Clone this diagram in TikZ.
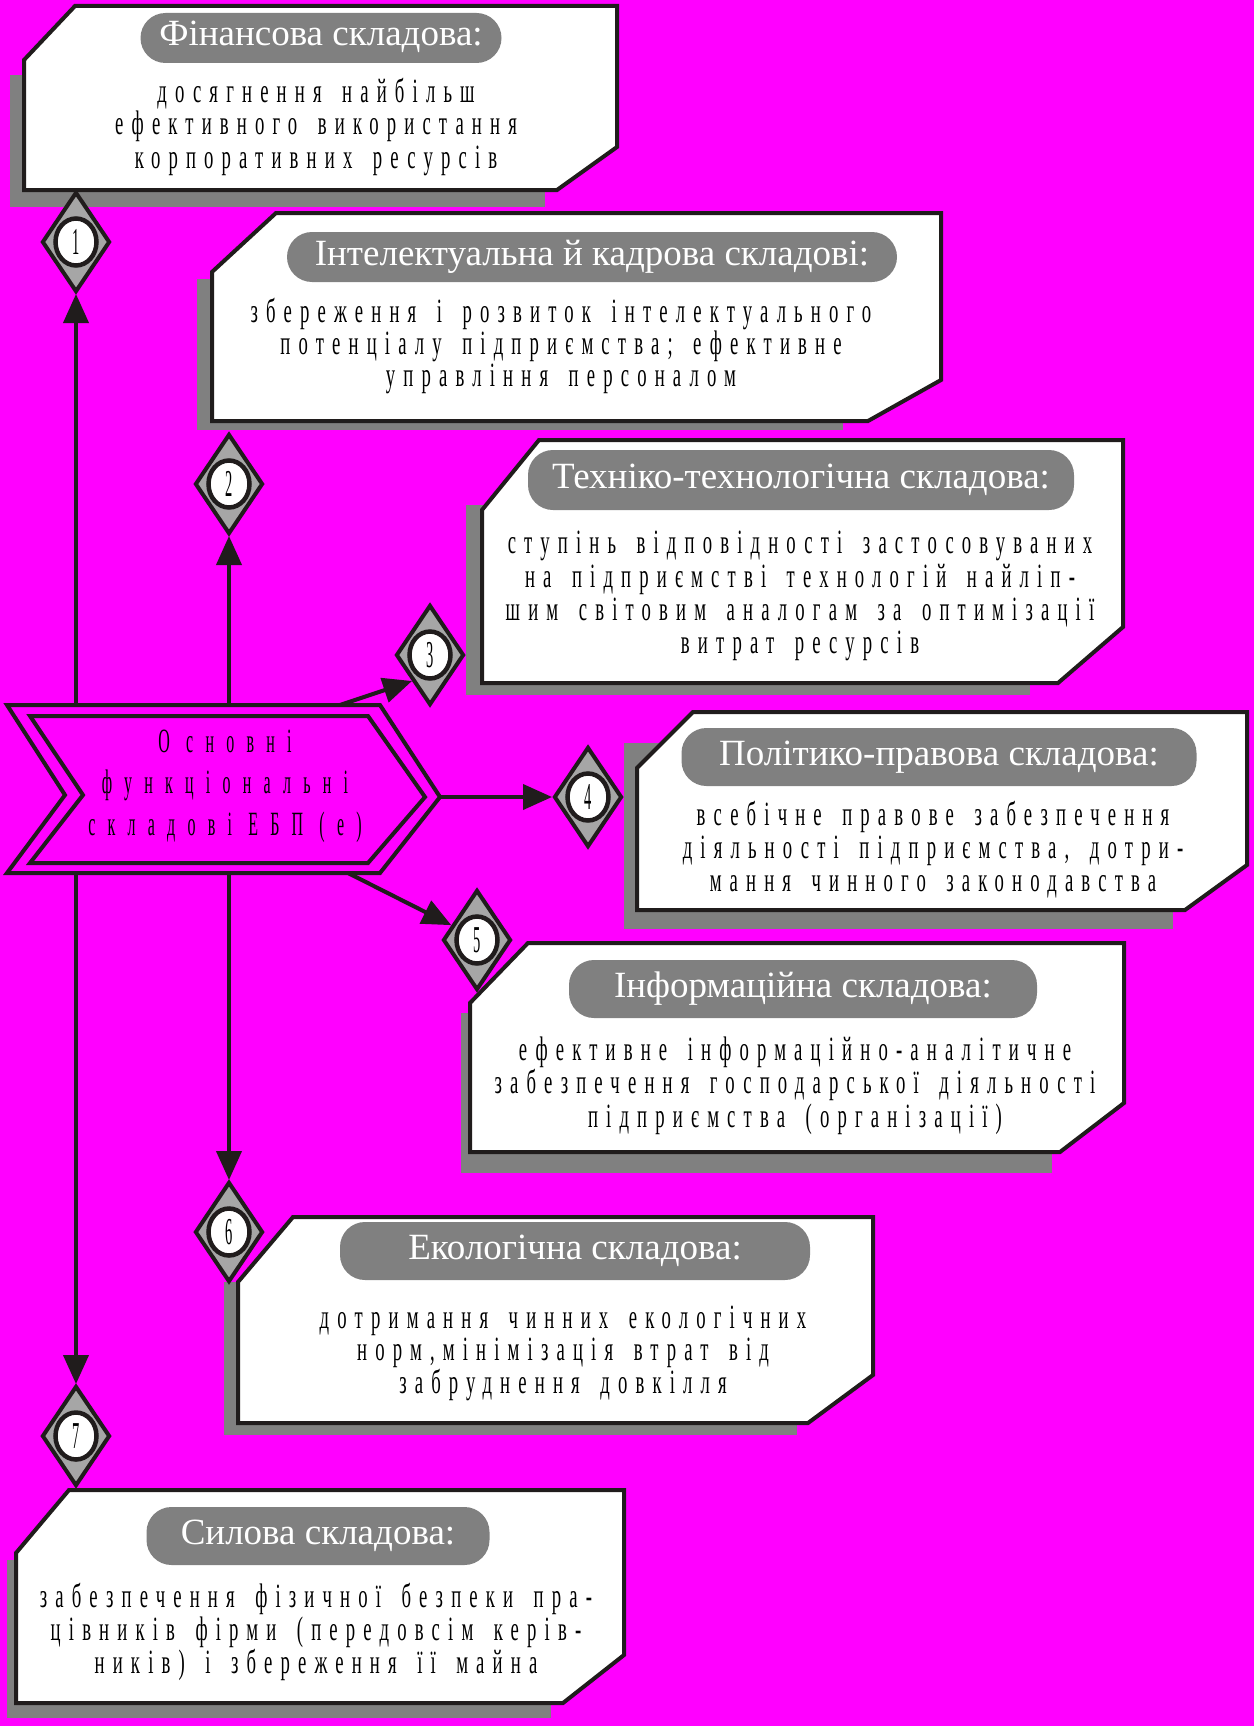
\documentclass[tikz,border=0pt]{standalone}
\usepackage{fontspec}
\setmainfont{Liberation Serif}
\newfontfamily\bodyfont[FakeStretch=0.55,LetterSpace=24,WordSpace=1.6]{Liberation Serif}
\newfontfamily\corefont[FakeStretch=0.47,LetterSpace=36]{Liberation Serif}
\newfontfamily\numfont[FakeStretch=0.38]{Liberation Serif}
\usetikzlibrary{shapes.geometric,arrows.meta}
\definecolor{bgmag}{RGB}{255,0,255}
\definecolor{shadegray}{RGB}{128,128,128}
\definecolor{dmdgray}{RGB}{166,166,166}
\definecolor{ink}{RGB}{32,28,28}
\begin{document}
\begin{tikzpicture}[x=1pt,y=-1pt,
  shadowrect/.style={fill=shadegray,draw=none},
  card/.style={fill=white,draw=ink,line width=4pt,line join=miter},
  pill/.style={fill=shadegray,draw=none,rounded corners=25pt,inner sep=0pt,
    text=white,font=\fontsize{37}{37}\selectfont,text height=24pt,text depth=8pt},
  bodyl/.style={anchor=base,inner sep=0pt,text=black,font=\bodyfont\fontsize{34}{34}\selectfont},
  corel/.style={anchor=base,inner sep=0pt,text=black,font=\corefont\fontsize{34}{34}\selectfont},
  dmd/.style={diamond,draw=ink,fill=dmdgray,line width=4pt,minimum width=68pt,minimum height=100pt,inner sep=0pt},
  numc/.style={ellipse,draw=ink,fill=white,line width=4.5pt,minimum width=41pt,minimum height=47pt,inner sep=0pt,
    font=\numfont\fontsize{38}{38}\selectfont},
  conn/.style={draw=ink,line width=4pt,-{Triangle[length=29pt,width=25pt]}},
  chev/.style={draw=ink,line width=4pt,line join=miter}
]
\fill[bgmag] (0,0) rectangle (1254,1726);
\useasboundingbox (0,0) rectangle (1254,1726);

% ---- Box 1
\fill[shadowrect] (10,75) rectangle (545,207);
\draw[card] (24,60) -- (75,6) -- (617,6) -- (617,147) -- (557,190) -- (24,190) -- cycle;
\node[pill,minimum width=361pt,minimum height=50pt] (t1) at (321,38) {Фінансова складова:};
\node[bodyl] (b1a) at (316,103) {досягнення найбільш};
\node[bodyl] (b1b) at (316,135) {ефективного використання};
\node[bodyl] (b1c) at (316,168) {корпоративних ресурсів};

% ---- Box 2
\fill[shadowrect] (197,279) rectangle (843,430);
\draw[card] (212,272) -- (276,213) -- (941,213) -- (941,380) -- (868,421) -- (212,421) -- cycle;
\node[pill,minimum width=610pt,minimum height=50pt] (t2) at (592,257) {Інтелектуальна й кадрова складові:};
\node[bodyl] (b2a) at (561,322) {збереження і розвиток інтелектуального};
\node[bodyl] (b2b) at (561,354) {потенціалу підприємства; ефективне};
\node[bodyl] (b2c) at (561,386) {управління персоналом};

% ---- Box 3
\fill[shadowrect] (466,505) rectangle (1030,695);
\draw[card] (482,510) -- (539,440) -- (1123,440) -- (1123,627) -- (1058,683) -- (482,683) -- cycle;
\node[pill,minimum width=546pt,minimum height=60pt] (t3) at (801,480) {Техніко-технологічна складова:};
\node[bodyl] (b3a) at (800,553) {ступінь відповідності застосовуваних};
\node[bodyl] (b3b) at (800,587) {на підприємстві технологій найліп-};
\node[bodyl] (b3c) at (800,620) {шим світовим аналогам за оптимізації};
\node[bodyl] (b3d) at (800,653) {витрат ресурсів};

% ---- Box 4
\fill[shadowrect] (624,743) rectangle (1173,929);
\draw[card] (637,768) -- (693,712) -- (1247,712) -- (1247,865) -- (1185,910) -- (637,910) -- cycle;
\node[pill,minimum width=515pt,minimum height=58pt] (t4) at (939,757) {Політико-правова складова:};
\node[bodyl] (b4a) at (933,825) {всебічне правове забезпечення};
\node[bodyl] (b4b) at (933,858) {діяльності підприємства, дотри-};
\node[bodyl] (b4c) at (933,891) {мання чинного законодавства};

% ---- Box 5
\fill[shadowrect] (461,1013) rectangle (1052,1173);
\draw[card] (470,1003) -- (528,943) -- (1124,943) -- (1124,1103) -- (1060,1152) -- (470,1152) -- cycle;
\node[pill,minimum width=468pt,minimum height=58pt] (t5) at (803,989) {Інформаційна складова:};
\node[bodyl] (b5a) at (795,1060) {ефективне інформаційно-аналітичне};
\node[bodyl] (b5b) at (795,1093) {забезпечення господарської діяльності};
\node[bodyl] (b5c) at (795,1127) {підприємства (організації)};

% ---- Box 6
\fill[shadowrect] (224,1282) rectangle (797,1435);
\draw[card] (238,1282) -- (293,1217) -- (873,1217) -- (873,1375) -- (808,1423) -- (238,1423) -- cycle;
\node[pill,minimum width=470pt,minimum height=58pt] (t6) at (575,1251) {Екологічна складова:};
\node[bodyl] (b6a) at (563,1328) {дотримання чинних екологічних};
\node[bodyl] (b6b) at (563,1360) {норм,мінімізація втрат від};
\node[bodyl] (b6c) at (563,1393) {забруднення довкілля};

% ---- Box 7
\fill[shadowrect] (7,1560) rectangle (551,1718);
\draw[card] (16,1553) -- (69,1490) -- (624,1490) -- (624,1655) -- (563,1703) -- (16,1703) -- cycle;
\node[pill,minimum width=343pt,minimum height=58pt] (t7) at (318,1536) {Силова складова:};
\node[bodyl] (b7a) at (316,1607) {забезпечення фізичної безпеки пра-};
\node[bodyl] (b7b) at (316,1640) {цівників фірми (передовсім керів-};
\node[bodyl] (b7c) at (316,1673) {ників) і збереження її майна};

% ---- Central chevron
\draw[chev] (7,705) -- (380,705) -- (440,797) -- (380,873) -- (7,873) -- (65,795) -- cycle;
\draw[chev] (30,716) -- (368,716) -- (425,797) -- (368,863) -- (30,863) -- (83,795) -- cycle;
\node[corel] (k1) at (225,752) {О сновні};
\node[corel] (k2) at (225,793) {функціональні};
\node[corel] (k3) at (225,835) {складові ЕБП (е)};

\coordinate (c1) at (76,705);
\coordinate (c2) at (229,705);
\coordinate (c3) at (340,705);
\coordinate (c4) at (440,797);
\coordinate (c5) at (348,873);
\coordinate (c6) at (229,873);
\coordinate (c7) at (76,873);

% ---- Diamonds
\node[dmd] (d1) at (76,242) {};
\node[dmd] (d2) at (229,484) {};
\node[dmd] (d3) at (430,655) {};
\node[dmd] (d4) at (588,797) {};
\node[dmd] (d5) at (477,940) {};
\node[dmd] (d6) at (229,1232) {};
\node[dmd] (d7) at (76,1436) {};
\node[numc] (n1) at (d1) {1};
\node[numc] (n2) at (d2) {2};
\node[numc] (n3) at (d3) {3};
\node[numc] (n4) at (d4) {4};
\node[numc] (n5) at (d5) {5};
\node[numc] (n6) at (d6) {6};
\node[numc] (n7) at (d7) {7};

% ---- Connectors
\draw[conn] (c1) -- (d1.south);
\draw[conn] (c2) -- (d2.south);
\draw[conn] (c3) -- (d3.south west);
\draw[conn] (c4) -- (d4.west);
\draw[conn] (c5) -- (d5.150);
\draw[conn] (c6) -- (d6.north);
\draw[conn] (c7) -- (d7.north);
\end{tikzpicture}
\end{document}
